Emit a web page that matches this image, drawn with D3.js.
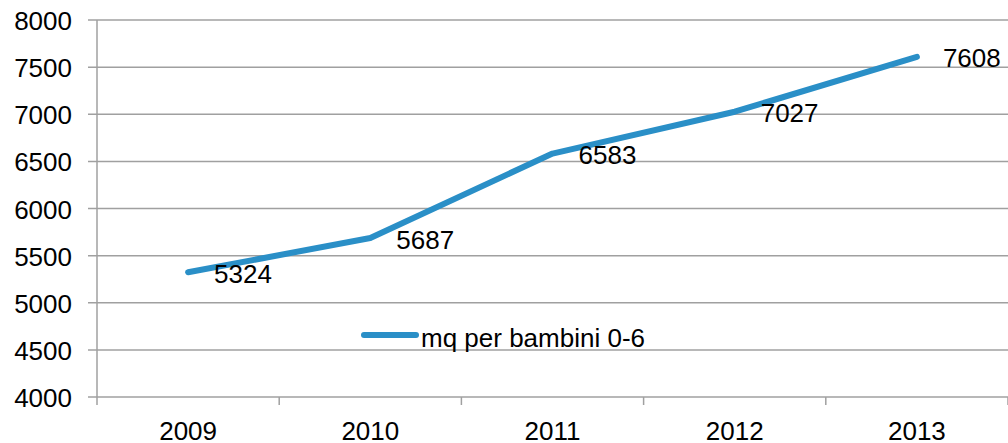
<!DOCTYPE html>
<html>
<head>
<meta charset="utf-8">
<script src="https://cdn.jsdelivr.net/npm/d3@7"></script>
<style>
  body { margin: 0; background: #fff; }
  svg text { font-family: "Liberation Sans", Arial, sans-serif; fill: #000; }
</style>
</head>
<body>
<svg></svg>
<script>
// data
const years = ['2009', '2010', '2011', '2012', '2013'];
const values = [5324, 5687, 6583, 7027, 7608];
const yTicks = [4000, 4500, 5000, 5500, 6000, 6500, 7000, 7500, 8000];
const seriesName = 'mq per bambini 0-6';

const width = 1008, height = 443;
const plotLeft = 97, plotRight = 1008, plotTop = 20, plotBottom = 397;
const fontSize = 26;

const svg = d3.select('svg')
  .attr('width', width)
  .attr('height', height);

const x = d3.scaleBand()
  .domain(years)
  .range([plotLeft, plotRight]);

const y = d3.scaleLinear()
  .domain([4000, 8000])
  .range([plotBottom, plotTop]);

// horizontal gridlines + y labels
svg.selectAll('.grid')
  .data(yTicks)
  .enter()
  .append('line')
  .attr('x1', plotLeft - 9)
  .attr('x2', plotRight)
  .attr('y1', d => y(d))
  .attr('y2', d => y(d))
  .attr('stroke', '#a0a0a0')
  .attr('stroke-width', 1.5);

svg.selectAll('.ylab')
  .data(yTicks)
  .enter()
  .append('text')
  .attr('x', 72)
  .attr('y', d => y(d) + 10)
  .attr('text-anchor', 'end')
  .style('font-size', fontSize + 'px')
  .text(d => d);

// y axis line
svg.append('line')
  .attr('x1', plotLeft).attr('x2', plotLeft)
  .attr('y1', plotTop).attr('y2', plotBottom + 8)
  .attr('stroke', '#a0a0a0')
  .attr('stroke-width', 1.5);

// x ticks at band boundaries
const bounds = years.map(d => x(d)).concat([x(years[years.length - 1]) + x.bandwidth()]);
svg.selectAll('.xtick')
  .data(bounds.slice(1))
  .enter()
  .append('line')
  .attr('x1', d => d).attr('x2', d => d)
  .attr('y1', plotBottom).attr('y2', plotBottom + 8)
  .attr('stroke', '#a0a0a0')
  .attr('stroke-width', 1.5);

svg.selectAll('.xlab')
  .data(years)
  .enter()
  .append('text')
  .attr('x', d => x(d) + x.bandwidth() / 2)
  .attr('y', 440)
  .attr('text-anchor', 'middle')
  .style('font-size', fontSize + 'px')
  .text(d => d);

// the line
const line = d3.line()
  .x((d, i) => x(years[i]) + x.bandwidth() / 2)
  .y(d => y(d));

svg.append('path')
  .datum(values)
  .attr('d', line)
  .attr('fill', 'none')
  .attr('stroke', '#2a8fc7')
  .attr('stroke-width', 6)
  .attr('stroke-linecap', 'round')
  .attr('stroke-linejoin', 'round');

// value labels
svg.selectAll('.vlab')
  .data(values)
  .enter()
  .append('text')
  .attr('x', (d, i) => x(years[i]) + x.bandwidth() / 2 + 26)
  .attr('y', d => y(d) + 10.5)
  .style('font-size', fontSize + 'px')
  .text(d => d);

// legend
svg.append('line')
  .attr('x1', 364).attr('x2', 416)
  .attr('y1', 335).attr('y2', 335)
  .attr('stroke', '#2a8fc7')
  .attr('stroke-width', 6)
  .attr('stroke-linecap', 'round');

svg.append('text')
  .attr('x', 421)
  .attr('y', 347)
  .style('font-size', fontSize + 'px')
  .text(seriesName);
</script>
</body>
</html>
